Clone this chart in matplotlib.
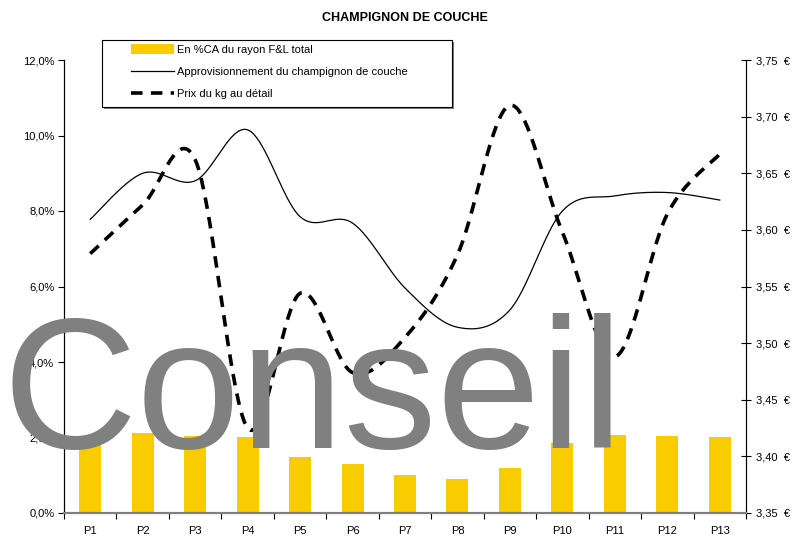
import numpy as np
import matplotlib
matplotlib.use("Agg")
import matplotlib.pyplot as plt
from matplotlib.patches import Rectangle, Patch
from matplotlib.lines import Line2D
from matplotlib.ticker import FuncFormatter, FixedLocator

plt.rcParams['font.family'] = ['Liberation Sans', 'DejaVu Sans']

periodes = ["P1", "P2", "P3", "P4", "P5", "P6", "P7", "P8", "P9", "P10", "P11", "P12", "P13"]
part_ca = [1.90, 2.13, 2.04, 2.02, 1.49, 1.30, 1.01, 0.90, 1.20, 1.86, 2.07, 2.04, 2.01]
appro = [7.78, 9.00, 8.80, 10.15, 7.85, 7.68, 5.96, 4.92, 5.38, 8.00, 8.40, 8.49, 8.29]
prix = [3.579, 3.622, 3.662, 3.425, 3.544, 3.474, 3.505, 3.578, 3.710, 3.598, 3.488, 3.614, 3.667]

JAUNE = "#F9CC00"


def lissage(valeurs, n=40):
    # courbe lissee facon Excel (Bezier / Catmull-Rom)
    y = np.asarray(valeurs, dtype=float)
    x = np.arange(len(y), dtype=float)
    xs, ys = [], []
    t = np.linspace(0, 1, n)
    for i in range(len(y) - 1):
        i0 = max(i - 1, 0)
        i3 = min(i + 2, len(y) - 1)
        pts = []
        for arr in (x, y):
            p0, p1, p2, p3 = arr[i0], arr[i], arr[i + 1], arr[i3]
            c1 = p1 + (p2 - p0) / 6
            c2 = p2 - (p3 - p1) / 6
            pts.append((1 - t) ** 3 * p1 + 3 * (1 - t) ** 2 * t * c1
                       + 3 * (1 - t) * t ** 2 * c2 + t ** 3 * p2)
        xs.append(pts[0])
        ys.append(pts[1])
    return np.concatenate(xs), np.concatenate(ys)


fig = plt.figure(figsize=(8.1, 5.59), dpi=100)
ax = fig.add_axes([64 / 810, 1 - 513 / 559, 682 / 810, 453 / 559])
ax2 = ax.twinx()

pos = np.arange(len(periodes))
ax.bar(pos, part_ca, width=0.42, color=JAUNE, zorder=2)
xa, ya = lissage(appro)
ax.plot(xa, ya, color="black", lw=0.9, zorder=3)

xp, yp = lissage(prix)
ax2.plot(xp, yp, color="black", lw=2.6, linestyle=(0, (3.2, 2.3)), zorder=3)

ax.set_xlim(-0.5, len(periodes) - 0.5)
ax.set_ylim(0, 12)
ax2.set_ylim(3.35, 3.75)
ax.set_yticks(np.arange(0, 12.1, 2))
ax2.set_yticks(np.arange(3.35, 3.751, 0.05))
ax.yaxis.set_major_formatter(FuncFormatter(lambda v, p: f"{v:.1f}%".replace(".", ",")))
ax2.yaxis.set_major_formatter(FuncFormatter(lambda v, p: f"{v:.2f}  €".replace(".", ",")))

ax.set_xticks(pos)
ax.set_xticklabels(periodes)
ax.xaxis.set_minor_locator(FixedLocator(np.arange(-0.5, len(periodes), 1)))
ax.tick_params(axis="x", which="major", length=0, pad=9, labelsize=8)
ax.tick_params(axis="x", which="minor", length=4, direction="out", width=0.8)
ax.tick_params(axis="y", length=4, direction="out", width=0.8, labelsize=8, pad=3)
ax2.tick_params(axis="y", length=7, direction="inout", width=0.8, labelsize=8, pad=4)

for a in (ax, ax2):
    a.spines["top"].set_visible(False)
    a.spines["left"].set_linewidth(0.8)
    a.spines["right"].set_linewidth(0.8)
    a.spines["bottom"].set_color("#808080")
    a.spines["bottom"].set_linewidth(1.5)

# titre
fig.text(0.5, 1 - 18 / 559, "CHAMPIGNON DE COUCHE", ha="center", va="center",
         fontsize=9, fontweight="bold")

# legende avec cadre et ombre
x0, y0, w, h = 102 / 810, 1 - 107 / 559, 350 / 810, 67 / 559
fig.patches.append(Rectangle((x0 + 2 / 810, y0 - 2 / 559), w, h, transform=fig.transFigure,
                             facecolor="#808080", edgecolor="none", zorder=4))
fig.patches.append(Rectangle((x0, y0), w, h, transform=fig.transFigure,
                             facecolor="white", edgecolor="black", lw=0.8, zorder=5))
poignees = [Patch(facecolor=JAUNE, edgecolor="none"),
            Line2D([], [], color="black", lw=0.9),
            Line2D([], [], color="black", lw=2.6, linestyle=(0, (3.2, 2.3)))]
noms = ["En %CA du rayon F&L total", "Approvisionnement du champignon de couche",
        "Prix du kg au détail"]
leg = fig.legend(poignees, noms, loc="upper left", bbox_to_anchor=(128 / 810, 1 - 41 / 559),
                 bbox_transform=fig.transFigure, frameon=False, fontsize=8,
                 handlelength=3.8, handleheight=0.9, handletextpad=0.3,
                 labelspacing=1.05, borderpad=0.3, borderaxespad=0)
leg.set_zorder(6)

# filigrane
fig.text(2 / 810, 1 - 448 / 559, "Conseil", ha="left", va="baseline", fontsize=134,
         color="#808080", zorder=10)

fig.savefig("out.png", dpi=100)
